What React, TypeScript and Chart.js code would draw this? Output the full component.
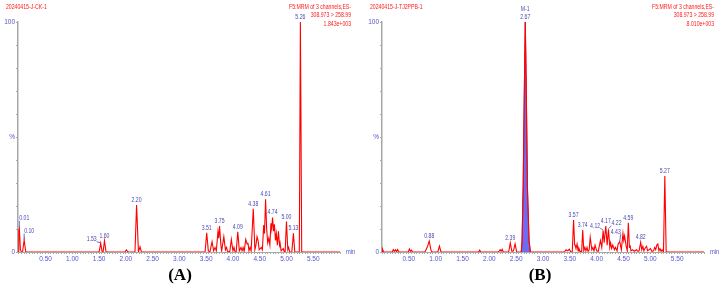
import React, { useEffect, useRef } from "react";
import { Chart, registerables } from "chart.js";

Chart.register(...registerables);

// ---- Panel A: 20240415-J-CK-1 (retention time in min, relative intensity in %) ----
const ckTimes = [
  -0.015, 0.0, 0.01, 0.03, 0.05, 0.07, 0.1, 0.13, 1.5, 1.53, 1.555, 1.575, 1.6, 1.63,
  1.98, 2.01, 2.04, 2.17, 2.2, 2.235, 2.245, 2.265, 2.29,
  3.48, 3.51, 3.54, 3.57, 3.61, 3.64, 3.665, 3.69, 3.72, 3.735, 3.75, 3.775, 3.79, 3.83,
  3.86, 3.88, 3.9, 3.94, 3.97, 4.0, 4.02, 4.04, 4.06, 4.09, 4.12, 4.15, 4.17, 4.19, 4.21,
  4.24, 4.265, 4.28, 4.3, 4.32, 4.34, 4.38, 4.41, 4.43, 4.45, 4.47, 4.49, 4.53, 4.55,
  4.575, 4.59, 4.61, 4.63, 4.65, 4.67, 4.69, 4.71, 4.725, 4.74, 4.76, 4.775, 4.795, 4.81,
  4.83, 4.85, 4.87, 4.88, 4.9, 4.94, 4.96, 4.975, 5.0, 5.025, 5.04, 5.06, 5.1, 5.13, 5.155,
  5.24, 5.26, 5.285, 6.0,
];
const ckLevels = [
  0, 9.5, 10.3, 1, 0, 0, 5.2, 0, 0, 3.8, 0.3, 0, 4.9, 0,
  0, 0.9, 0, 0, 20.4, 0, 0, 2.3, 0,
  0, 8.4, 0.5, 0, 4.5, 0.5, 2, 0.5, 8.8, 6, 11.3, 3, 0.5, 6.7,
  1, 2, 0.3, 0, 5.5, 0.5, 2, 0, 0, 8.8, 0.5, 2, 0.5, 2, 0.3,
  5.5, 3.5, 4, 0.5, 2, 0.5, 18.8, 1, 3, 6.7, 5, 1, 2, 1,
  11.7, 8, 22.9, 10, 4, 6, 3, 12.5, 10, 15, 9, 12, 5, 8,
  3, 9, 3, 4, 0.5, 1.5, 0, 0, 13.2, 1, 2, 0, 0, 8.1, 0,
  0, 100, 0, 0,
];
const ckPeakLabels = [0.01, 0.1, 1.53, 1.6, 2.2, 3.51, 3.75, 4.09, 4.38, 4.61, 4.74, 5.0, 5.13, 5.26];

// ---- Panel B: 20240415-J-TJ2PPB-1 ----
const ppbTimes = [
  0.0, 0.01, 0.03, 0.19, 0.21, 0.23, 0.25, 0.27, 0.29, 0.31, 0.49, 0.51, 0.53, 0.55, 0.57,
  0.8, 0.85, 0.88, 0.91, 0.93, 1.04, 1.07, 1.1, 1.8, 1.82, 1.84, 2.17, 2.2, 2.22, 2.24, 2.26,
  2.36, 2.39, 2.42, 2.45, 2.48, 2.51,
  2.595, 2.61, 2.63, 2.652, 2.67, 2.689, 2.71, 2.74, 2.765,
  3.4, 3.43, 3.46, 3.49, 3.52, 3.545, 3.57, 3.59, 3.6, 3.615, 3.635, 3.655, 3.67, 3.69,
  3.72, 3.74, 3.76, 3.78, 3.8, 3.82, 3.84, 3.86, 3.88, 3.91, 3.93, 3.95, 3.97, 4.0, 4.03,
  4.07, 4.095, 4.12, 4.14, 4.17, 4.195, 4.22, 4.245, 4.26, 4.28, 4.3, 4.33, 4.35, 4.38,
  4.4, 4.43, 4.46, 4.49, 4.505, 4.52, 4.55, 4.57, 4.59, 4.61, 4.62, 4.64, 4.67, 4.7, 4.74,
  4.77, 4.79, 4.82, 4.84, 4.86, 4.88, 4.9, 4.93, 4.95, 5.0, 5.03, 5.06, 5.08, 5.1, 5.12,
  5.14, 5.16, 5.18, 5.2, 5.22, 5.245, 5.27, 5.295, 6.0,
];
const ppbLevels = [
  0, 1.2, 0, 0, 1, 0.3, 1, 0.2, 1.1, 0, 0, 1.3, 0.3, 0.8, 0,
  0, 2.5, 4.8, 1, 0, 0, 2.6, 0, 0, 0.8, 0, 0, 1, 0.3, 1.2, 0,
  0, 4, 0.3, 0.5, 3.5, 0,
  0, 5, 28, 70, 100, 70, 28, 5, 0,
  0, 1, 0.5, 1.2, 0, 0, 13.9, 3, 3, 1.5, 3.5, 0.5, 1.5, 0.3,
  0, 9.6, 0.5, 2, 0.5, 2, 0.3, 1, 6.4, 1, 2, 0.5, 3, 0.5, 0.3,
  5, 2, 9.3, 4, 11.3, 3, 9.9, 2, 4, 1.5, 3, 1, 2, 0.5,
  3.5, 4.5, 1, 8.1, 5, 7, 2.5, 0.5, 12.7, 2, 3, 0.5, 1, 0.3, 1,
  0.3, 0.5, 4.2, 1, 2.5, 0.5, 1.5, 2.5, 0.5, 1.5, 0.3, 0.5, 2, 1, 3,
  3.5, 0.5, 1.5, 0.3, 1, 0, 33, 0, 0,
];
const ppbPeakLabels = [0.88, 2.39, 2.67, 3.57, 3.74, 4.12, 4.17, 4.22, 4.43, 4.59, 4.82, 5.27];

// Integrated M-1 peak (shaded area)
const m1Times = [2.595, 2.61, 2.63, 2.652, 2.67, 2.689, 2.71, 2.74, 2.765];
const m1Levels = [0, 5, 28, 70, 100, 70, 28, 5, 0];

// ---- Axes ----
const xTickValues = [0.5, 1.0, 1.5, 2.0, 2.5, 3.0, 3.5, 4.0, 4.5, 5.0, 5.5];
const xTickLabels = ["0.50", "1.00", "1.50", "2.00", "2.50", "3.00", "3.50", "4.00", "4.50", "5.00", "5.50"];
const yTickValues = [0, 10, 20, 30, 40, 50, 60, 70, 80, 90, 100];
const yTickLabels = ["0", "", "", "", "", "%", "", "", "", "", "100"];

const RED = "#ff1a1a";
const TRACE = "#ff0000";
const BLUE_TEXT = "#4a4ab4";
const TICK_BLUE = "#5555cc";
const AXIS_GREY = "#a8a8a8";
const SANS = "'Liberation Sans', Arial, sans-serif";

type Nudge = { dx: number; dy: number };

interface PanelSpec {
  letter: string;
  sample: string;
  header: string[];
  times: number[];
  levels: number[];
  labels: number[];
  nudges: Record<string, Nudge>;
  peakName?: { time: number; text: string };
  fillTimes?: number[];
  fillLevels?: number[];
  xMin: number;
  xMax: number;
  axisWidth: number;
  padRight: number;
  sampleLeft: number;
  headerRight: number;
}

const panels: PanelSpec[] = [
  {
    letter: "(A)",
    sample: "20240415-J-CK-1",
    header: ["F5:MRM of 3 channels,ES-", "308.973 > 258.99", "1.843e+003"],
    times: ckTimes,
    levels: ckLevels,
    labels: ckPeakLabels,
    nudges: {
      "0.01": { dx: 5, dy: -5 },
      "0.10": { dx: 5, dy: -4 },
      "1.53": { dx: -9, dy: 1 },
    },
    xMin: -0.015,
    xMax: 6.0,
    axisWidth: 18,
    padRight: 20,
    sampleLeft: 6,
    headerRight: 351,
  },
  {
    letter: "(B)",
    sample: "20240415-J-TJ2PPB-1",
    header: ["F5:MRM of 3 channels,ES-", "308.973 > 258.99", "8.010e+003"],
    times: ppbTimes,
    levels: ppbLevels,
    labels: ppbPeakLabels,
    nudges: {
      "4.12": { dx: -8, dy: 0 },
      "4.22": { dx: 8, dy: -1 },
      "4.43": { dx: -4, dy: -5 },
    },
    peakName: { time: 2.67, text: "M-1" },
    fillTimes: m1Times,
    fillLevels: m1Levels,
    xMin: 0,
    xMax: 6.0,
    axisWidth: 22,
    padRight: 16,
    sampleLeft: 10,
    headerRight: 354,
  },
];

function toPoints(xs: number[], ys: number[]) {
  return xs.map((x, i) => ({ x, y: ys[i] }));
}

// Draws text squeezed horizontally by factor sx, anchored like fillText.
function narrowText(
  ctx: CanvasRenderingContext2D,
  text: string,
  x: number,
  y: number,
  sx: number,
  align: CanvasTextAlign
) {
  ctx.save();
  ctx.translate(x, y);
  ctx.scale(sx, 1);
  ctx.textAlign = align;
  ctx.fillText(text, 0, 0);
  ctx.restore();
}

function makeAnnotations(spec: PanelSpec) {
  return {
    id: "chromAnnotations",
    afterDraw(chart: Chart) {
      const { ctx } = chart;
      const xs = chart.scales.x;
      const ys = chart.scales.y;
      ctx.save();

      // sample name and channel header
      ctx.fillStyle = RED;
      ctx.font = `6.3px ${SANS}`;
      ctx.textBaseline = "middle";
      narrowText(ctx, spec.sample, spec.sampleLeft, 7, 0.82, "left");
      spec.header.forEach((line, i) => narrowText(ctx, line, spec.headerRight, 7 + i * 8.5, 0.82, "right"));

      // retention-time labels over the peaks
      const SX = 0.76;
      ctx.fillStyle = BLUE_TEXT;
      ctx.strokeStyle = BLUE_TEXT;
      ctx.lineWidth = 0.8;
      ctx.font = `6.8px ${SANS}`;
      ctx.textBaseline = "bottom";
      spec.labels.forEach((t) => {
        const idx = spec.times.findIndex((v) => Math.abs(v - t) < 1e-9);
        if (idx < 0) return;
        const px = xs.getPixelForValue(t);
        const py = ys.getPixelForValue(spec.levels[idx]);
        const text = t.toFixed(2);
        const n = spec.nudges[text];
        const lx = px + (n ? n.dx : 0);
        const ly = py - 1.5 + (n ? n.dy : 0);
        narrowText(ctx, text, lx, ly, SX, "center");
        if (n) {
          const w = ctx.measureText(text).width * SX;
          const sx = n.dx > 0 ? lx - w / 2 : lx + w / 2;
          ctx.beginPath();
          ctx.moveTo(sx, ly - 1);
          ctx.lineTo(px, py - 0.5);
          ctx.stroke();
        }
        if (spec.peakName && Math.abs(spec.peakName.time - t) < 1e-9) {
          narrowText(ctx, spec.peakName.text, lx, ly - 8, SX, "center");
        }
      });

      // axis unit
      ctx.textBaseline = "middle";
      ctx.font = `6.8px ${SANS}`;
      ctx.fillStyle = TICK_BLUE;
      narrowText(ctx, "min", xs.right + 6, ys.bottom, 0.85, "left");

      // panel letter
      ctx.fillStyle = "#000";
      ctx.font = "bold 17px 'Liberation Serif', 'Times New Roman', serif";
      ctx.textAlign = "center";
      ctx.textBaseline = "middle";
      ctx.fillText(spec.letter, 180, 276);
      ctx.restore();
    },
  };
}

function Panel({ spec, left }: { spec: PanelSpec; left: number }) {
  const ref = useRef<HTMLCanvasElement>(null);

  useEffect(() => {
    if (!ref.current) return;
    const datasets: any[] = [
      {
        data: toPoints(spec.times, spec.levels),
        borderColor: TRACE,
        borderWidth: 1.1,
        pointRadius: 0,
        tension: 0,
        fill: false,
      },
    ];
    if (spec.fillTimes && spec.fillLevels) {
      datasets.push({
        data: toPoints(spec.fillTimes, spec.fillLevels),
        borderColor: "#8a3a8a",
        borderWidth: 1,
        backgroundColor: "#6c6cf0",
        pointRadius: 0,
        tension: 0,
        fill: "origin",
      });
    }

    const chart = new Chart(ref.current, {
      type: "line",
      data: { datasets },
      plugins: [makeAnnotations(spec)],
      options: {
        animation: false,
        responsive: false,
        devicePixelRatio: 1,
        parsing: false,
        layout: { padding: { left: 0, right: spec.padRight, top: 22, bottom: 26 } },
        plugins: { legend: { display: false }, tooltip: { enabled: false } },
        scales: {
          x: {
            type: "linear",
            min: spec.xMin,
            max: spec.xMax,
            afterBuildTicks: (scale: any) => {
              const ticks = [];
              for (let k = 0; k <= 120; k++) ticks.push({ value: k * 0.05 });
              scale.ticks = ticks.filter((tk: any) => tk.value >= scale.min && tk.value <= scale.max);
            },
            afterFit: (scale: any) => {
              scale.height = 14;
            },
            ticks: {
              autoSkip: false,
              maxRotation: 0,
              padding: 1,
              color: TICK_BLUE,
              font: { size: 6.5, family: SANS },
              callback: (value: any) => {
                const i = xTickValues.findIndex((v) => Math.abs(v - Number(value)) < 1e-6);
                return i >= 0 ? xTickLabels[i] : "";
              },
            },
            grid: {
              drawOnChartArea: false,
              drawTicks: true,
              tickLength: 2,
              color: AXIS_GREY,
              tickColor: AXIS_GREY,
            },
            border: { display: true, color: AXIS_GREY, width: 1 },
          },
          y: {
            type: "linear",
            min: 0,
            max: 100,
            afterBuildTicks: (scale: any) => {
              scale.ticks = yTickValues.map((v) => ({ value: v }));
            },
            afterFit: (scale: any) => {
              scale.width = spec.axisWidth;
            },
            ticks: {
              autoSkip: false,
              padding: 1,
              color: TICK_BLUE,
              font: { size: 6.5, family: SANS },
              callback: (value: any) => {
                const i = yTickValues.indexOf(Number(value));
                return i >= 0 ? yTickLabels[i] : "";
              },
            },
            grid: {
              drawOnChartArea: false,
              drawTicks: true,
              tickLength: 2,
              color: AXIS_GREY,
              tickColor: AXIS_GREY,
            },
            border: { display: true, color: AXIS_GREY, width: 1.5 },
          },
        },
      } as any,
    });
    return () => chart.destroy();
  }, [spec]);

  return (
    <canvas
      ref={ref}
      width={360}
      height={292}
      style={{ position: "absolute", left, top: 0, width: 360, height: 292 }}
    />
  );
}

export default function App() {
  return (
    <div style={{ position: "absolute", left: 0, top: 0, width: 720, height: 292, background: "#fff" }}>
      <Panel spec={panels[0]} left={0} />
      <Panel spec={panels[1]} left={360} />
    </div>
  );
}
